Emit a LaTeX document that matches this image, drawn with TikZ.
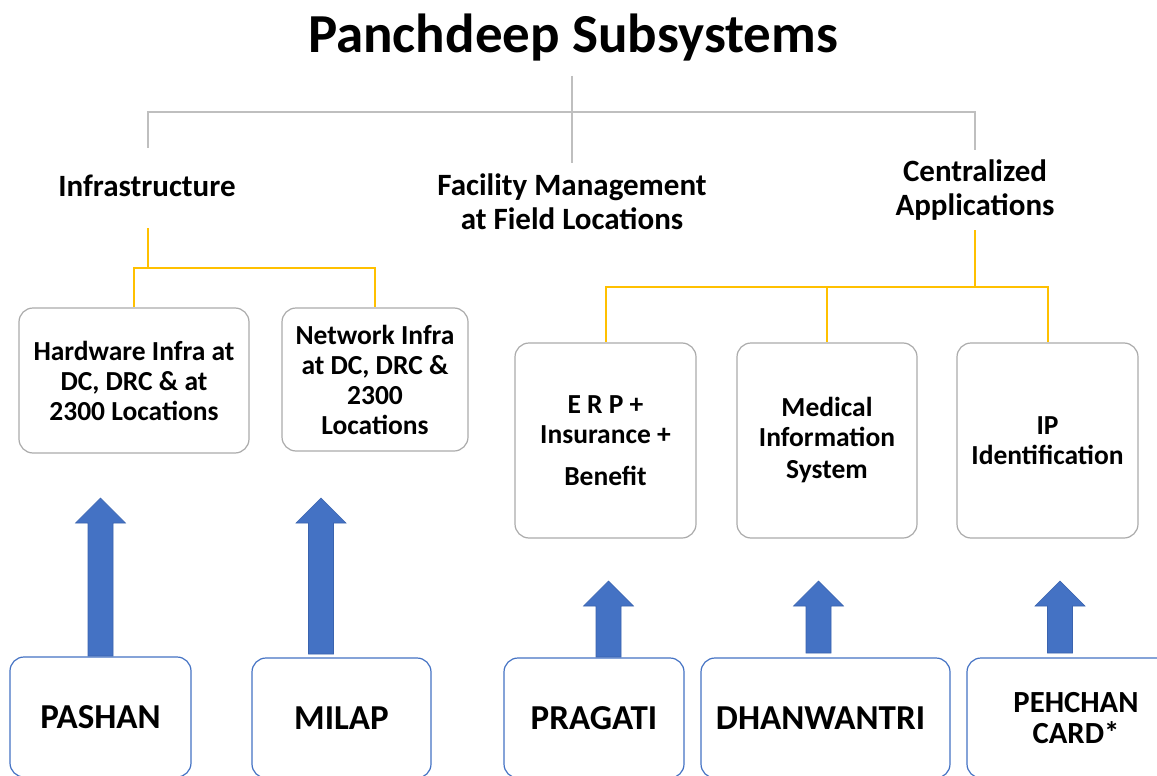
\documentclass[tikz,border=0pt]{standalone}
\usepackage{fontspec}
\setmainfont{Carlito}
\usetikzlibrary{calc}
\definecolor{grayline}{HTML}{BFBFBF}
\definecolor{goldline}{HTML}{FFC000}
\definecolor{boxgray}{HTML}{ABABAB}
\definecolor{officeblue}{HTML}{4472C4}
\definecolor{arrowedge}{HTML}{3A63AE}
\tikzset{
  treegray/.style={draw=grayline, line width=1.8pt},
  treegold/.style={draw=goldline, line width=2pt},
  grouplabel/.style={align=center, inner sep=0pt, font=\fontsize{31}{34}\selectfont\bfseries},
  graybox/.style={draw=boxgray, line width=1.2pt, rounded corners=14pt, inner sep=0pt,
    align=center, font=\fontsize{27.5}{30}\selectfont\bfseries},
  bluebox/.style={draw=officeblue, line width=1.2pt, rounded corners=14pt, inner sep=0pt,
    align=center, font=\fontsize{35}{31}\selectfont\bfseries},
  bigarrow/.style={fill=officeblue, draw=arrowedge, line width=0.6pt},
}
\newcommand\UpArrow[2]{%
  \path[bigarrow] ($(#1)+(-12.5,0)$) -- ($(#2)+(-12.5,25)$) -- ($(#2)+(-25,25)$) -- (#2)
    -- ($(#2)+(25,25)$) -- ($(#2)+(12.5,25)$) -- ($(#1)+(12.5,0)$) -- cycle;}
\begin{document}
\begin{tikzpicture}[x=1pt,y=-1pt]
\useasboundingbox (0,0) rectangle (1157,776);
\clip (0,0) rectangle (1157,776);
\fill[white] (0,0) rectangle (1157,776);

% title
\node[anchor=base, inner sep=0pt, font=\fontsize{55}{60}\selectfont\bfseries] (title) at (573,53) {Panchdeep Subsystems};

% group labels
\node[grouplabel] (infra) at (147,186) {Infrastructure};
\node[grouplabel] (fac) at (572,202) {Facility Management\\at Field Locations};
\node[grouplabel] (apps) at (975,190) {Centralized\\Applications};

% gray tree
\coordinate (tTop) at (572,76);
\coordinate (tJ) at (572,112);
\coordinate (tMid) at (572,163);
\coordinate (tL) at (148,148);
\coordinate (tR) at (975,150);
\draw[treegray] (tTop) -- (tMid);
\draw[treegray] (tJ) -| (tL);
\draw[treegray] (tJ) -| (tR);

% level-2 boxes
\node[graybox, minimum width=230pt, minimum height=145pt] (hw) at (134,380.5)
  {Hardware Infra at\\DC, DRC \& at\\2300 Locations};
\node[graybox, minimum width=186pt, minimum height=143pt] (nw) at (375,379.5)
  {Network Infra\\at DC, DRC \&\\2300\\Locations};
\node[graybox, minimum width=181pt, minimum height=195pt] (erp) at (605.5,440.5)
  {E R P +\\Insurance +\\[12pt]Benefit};
\node[graybox, minimum width=180pt, minimum height=195pt] (mis) at (827,440.5)
  {Medical\\Information\\[2pt]System};
\node[graybox, minimum width=181pt, minimum height=195pt] (ipid) at (1047.5,440.5)
  {IP\\Identification};

% gold trees
\coordinate (iS) at (148,228);
\coordinate (iJ) at (148,268);
\draw[treegold] (iS) -- (iJ) -| (hw.north);
\draw[treegold] (iJ) -| (nw.north);
\coordinate (aS) at (975,230);
\coordinate (aJ) at (975,287);
\draw[treegold] (aS) -- (aJ) -| (erp.north);
\draw[treegold] (aJ) -| (mis.north);
\draw[treegold] (aJ) -| (ipid.north);

% bottom boxes
\node[bluebox, minimum width=181pt, minimum height=120pt] (pashan) at (100.5,717) {PASHAN};
\node[bluebox, minimum width=179pt, minimum height=120pt] (milap) at (341.5,718) {MILAP};
\node[bluebox, minimum width=180pt, minimum height=120pt] (pragati) at (594,718) {PRAGATI};
\node[bluebox, minimum width=249pt, minimum height=120pt] (dhan) at (825.5,718) {DHANWANTRI\hspace*{10pt}};
\node[bluebox, minimum width=218pt, minimum height=120pt, font=\fontsize{30.7}{31}\selectfont\bfseries] (pehchan) at (1076,718) {PEHCHAN\\CARD*};

% big arrows
\coordinate (pashanB) at (100.5,656);  \coordinate (pashanT) at (100.5,498);
\coordinate (milapB) at (321,654);     \coordinate (milapT) at (321,498);
\coordinate (pragatiB) at (608.5,657); \coordinate (pragatiT) at (608.5,581);
\coordinate (dhanB) at (818.5,653);    \coordinate (dhanT) at (818.5,581);
\coordinate (pehB) at (1060,653);      \coordinate (pehT) at (1060,581);
\UpArrow{pashanB}{pashanT}
\UpArrow{milapB}{milapT}
\UpArrow{pragatiB}{pragatiT}
\UpArrow{dhanB}{dhanT}
\UpArrow{pehB}{pehT}
\end{tikzpicture}
\end{document}
